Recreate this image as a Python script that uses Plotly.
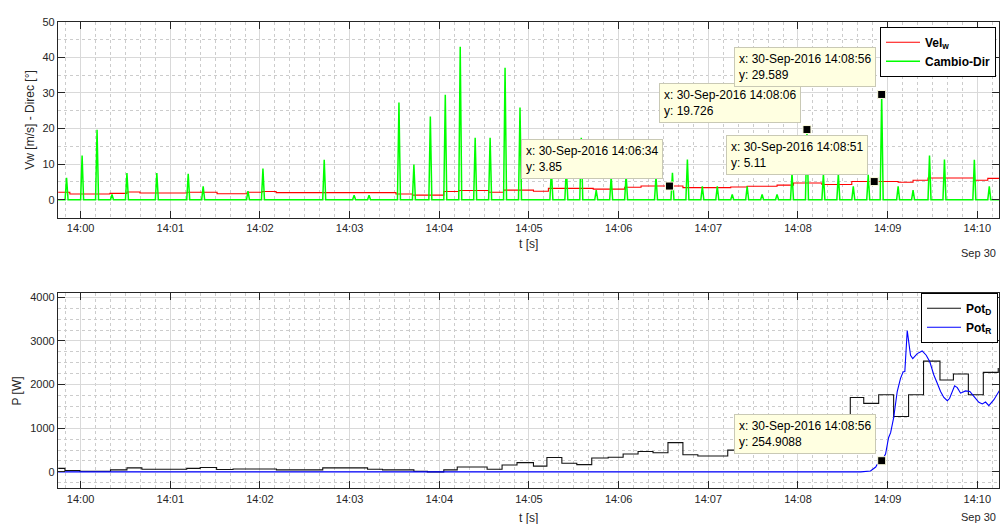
import plotly.graph_objects as go
import datetime as _dt

DAY = "2016-09-30 "

# ---------------- top chart data ----------------
# Vel_w (red), step values: start time, value
vel_t = ["13:59:45", "13:59:52.8", "14:00:19.6", "14:00:31", "14:00:39.7", "14:01:11.2",
         "14:01:31.3", "14:01:51.4", "14:02:01.4", "14:02:10.8", "14:03:31", "14:03:42",
         "14:04:03", "14:04:13", "14:04:33", "14:04:43", "14:05:03", "14:05:13", "14:05:43",
         "14:06:04", "14:06:15", "14:06:43", "14:07:15", "14:07:26", "14:07:46", "14:07:57",
         "14:08:16", "14:08:36", "14:09:07", "14:09:17", "14:09:27", "14:09:58", "14:10:07",
         "14:10:15"]
vel_v = [2.1, 1.6, 1.8, 2.2, 1.9, 2.1,
         1.7, 2.1, 2.3, 2.0, 1.6, 1.3,
         2.3, 2.6, 2.1, 2.7, 2.4, 3.2, 3.0,
         3.5, 3.85, 3.4, 3.6, 3.8, 4.1, 4.7,
         4.3, 5.11, 4.9, 5.5, 6.1, 5.5, 6.0,
         6.0]

# Cambio-Dir (green) spikes: time of peak, peak value; baseline value
cambio_base = 0.0
cambio_t = ["13:59:50.6", "14:00:01", "14:00:11", "14:00:21", "14:00:31", "14:00:51",
            "14:01:12", "14:01:22", "14:01:52", "14:02:02", "14:02:43", "14:03:03",
            "14:03:13", "14:03:33", "14:03:43", "14:03:54", "14:04:04", "14:04:14",
            "14:04:24", "14:04:34", "14:04:44", "14:04:54", "14:05:15", "14:05:25",
            "14:05:35", "14:05:45", "14:05:55", "14:06:05", "14:06:25", "14:06:36",
            "14:06:46", "14:06:56", "14:07:06", "14:07:16", "14:07:26", "14:07:36",
            "14:07:46", "14:07:56", "14:08:06", "14:08:17", "14:08:27", "14:08:37",
            "14:08:47", "14:08:56", "14:09:07", "14:09:17", "14:09:28", "14:09:38",
            "14:09:58", "14:10:08"]
cambio_v = [6.2, 12.4, 19.7, 1.5, 7.5, 7.5,
            7.3, 3.8, 2.4, 8.8, 11.2, 1.3,
            1.3, 27.3, 9.9, 23.4, 29.5, 43.0,
            17.4, 17.4, 37.1, 25.9, 8.5, 9.0,
            17.4, 2.7, 6.5, 7.0, 6.5, 7.6,
            11.3, 3.8, 3.8, 1.5, 3.8, 1.5,
            1.5, 7.5, 19.726, 7.2, 7.2, 3.8,
            7.0, 29.589, 3.8, 2.7, 12.4, 11.3,
            11.2, 3.8]
cambio_start = "13:59:45"
cambio_end = "14:10:15"

# ---------------- bottom chart data ----------------
potd_t = ["13:59:45", "13:59:49.5", "13:59:59.5", "14:00:20", "14:00:31", "14:00:41",
          "14:01:11", "14:01:20", "14:01:31", "14:01:42", "14:02:11", "14:02:42",
          "14:03:12", "14:03:22", "14:03:43", "14:03:52", "14:04:03", "14:04:12",
          "14:04:32", "14:04:42", "14:04:52", "14:05:03", "14:05:12", "14:05:22",
          "14:05:32", "14:05:42", "14:05:53", "14:06:03", "14:06:13", "14:06:23",
          "14:06:33", "14:06:43", "14:06:53", "14:07:13", "14:07:23", "14:07:34",
          "14:07:44", "14:07:54", "14:08:04", "14:08:14", "14:08:24", "14:08:35",
          "14:08:44", "14:08:54", "14:09:04", "14:09:14", "14:09:24", "14:09:35",
          "14:09:44", "14:09:54", "14:10:04", "14:10:14"]
potd_v = [80, 30, 15, 45, 90, 60,
          80, 100, 55, 65, 45, 90,
          60, 45, 15, 0, 45, 110,
          60, 158, 210, 130, 330, 195,
          165, 317, 335, 407, 467, 437,
          670, 392, 362, 498, 520, 600,
          680, 760, 830, 900, 960, 1705,
          1570, 1767, 1268, 1767, 2537, 2106,
          2242, 1767, 2279, 2380]

potr_t = ["13:59:45", "14:06:50", "14:06:52", "14:06:54", "14:08:42", "14:08:48.5",
          "14:08:52", "14:08:53", "14:08:56", "14:08:58.6", "14:09:00.6", "14:09:02",
          "14:09:04", "14:09:06.4", "14:09:08.6", "14:09:10.4", "14:09:11.5", "14:09:13.1",
          "14:09:15.3", "14:09:16.8", "14:09:19.8", "14:09:23.1", "14:09:25.8", "14:09:28.2",
          "14:09:30.9", "14:09:33.2", "14:09:35.4", "14:09:37.6", "14:09:39.9", "14:09:41.4",
          "14:09:43.2", "14:09:44.8", "14:09:46.6", "14:09:48.8", "14:09:52.1", "14:09:55",
          "14:09:57.7", "14:10:01", "14:10:03.3", "14:10:05.5", "14:10:07.7", "14:10:11.1",
          "14:10:15.1"]
potr_v = [0, 0, 12, 0, 0, 20,
          110, 170, 254.9088, 408, 783, 897,
          1237, 1841, 2143, 2294, 2300, 3239,
          2673, 2596, 2709, 2770, 2673, 2521,
          2220, 2030, 1841, 1705, 1631, 1680,
          1841, 1970, 1930, 1803, 1855, 1841,
          1728, 1592, 1555, 1600, 1517, 1653,
          1880]

# data tips: (time, value, shown text)
tips_top_t = ["14:06:34", "14:08:06", "14:08:51", "14:08:56"]
tips_top_v = [3.85, 19.726, 5.11, 29.589]
tips_top_txt = ["3.85", "19.726", "5.11", "29.589"]
tips_bot_t = ["14:08:56"]
tips_bot_v = [254.9088]
tips_bot_txt = ["254.9088"]

x_range = [DAY + "13:59:44.83", DAY + "14:10:14.5"]
FONT = "Liberation Sans, Arial, sans-serif"
AXC = "#262626"


def d(ts):
    return [DAY + t for t in ts]


def _p(t):
    return _dt.datetime.strptime(DAY + (t if "." in t else t + ".0"), "%Y-%m-%d %H:%M:%S.%f")


# green series: each spike is a single sample above the baseline
gx = [_p(cambio_start)]
gy = [cambio_base]
for t, v in zip(cambio_t, cambio_v):
    pt = _p(t)
    gx += [pt - _dt.timedelta(seconds=1), pt, pt + _dt.timedelta(seconds=1)]
    gy += [cambio_base, v, cambio_base]
gx.append(_p(cambio_end))
gy.append(cambio_base)

fig = go.Figure()
fig.add_trace(go.Scatter(x=d(vel_t), y=vel_v, mode="lines", line=dict(color="#FF0000", width=1.1, shape="hv"),
                         name="<b>Vel<sub>w</sub></b>", legend="legend", xaxis="x", yaxis="y"))
fig.add_trace(go.Scatter(x=gx, y=gy, mode="lines", line=dict(color="#00FF00", width=1.5),
                         name="<b>Cambio-Dir</b>", legend="legend", xaxis="x", yaxis="y"))
fig.add_trace(go.Scatter(x=d(potd_t), y=potd_v, mode="lines", line=dict(color="#111111", width=1.1, shape="hv"),
                         name="<b>Pot<sub>D</sub></b>", legend="legend2", xaxis="x2", yaxis="y2"))
fig.add_trace(go.Scatter(x=d(potr_t), y=potr_v, mode="lines", line=dict(color="#0000FF", width=1.1),
                         name="<b>Pot<sub>R</sub></b>", legend="legend2", xaxis="x2", yaxis="y2"))

# data tip markers
fig.add_trace(go.Scatter(x=d(tips_top_t), y=tips_top_v, mode="markers", showlegend=False,
                         marker=dict(symbol="square", size=8, color="black", line=dict(color="#FFFFE0", width=1)),
                         xaxis="x", yaxis="y"))
fig.add_trace(go.Scatter(x=d(tips_bot_t), y=tips_bot_v, mode="markers", showlegend=False,
                         marker=dict(symbol="square", size=8, color="black", line=dict(color="#FFFFE0", width=1)),
                         xaxis="x2", yaxis="y2"))

annotations = []


def tip(t, v, txt, xr, yr):
    annotations.append(dict(
        x=DAY + t, y=v, xref=xr, yref=yr, showarrow=False,
        xanchor="right", yanchor="bottom", xshift=-6, yshift=7,
        text="x: 30-Sep-2016 " + t + "<br>y: " + txt, align="left",
        font=dict(family=FONT, size=12, color="black"),
        bgcolor="#FFFFE1", bordercolor="#C9C9B5", borderwidth=1, borderpad=4))


for t, v, s in zip(tips_top_t, tips_top_v, tips_top_txt):
    tip(t, v, s, "x", "y")
for t, v, s in zip(tips_bot_t, tips_bot_v, tips_bot_txt):
    tip(t, v, s, "x2", "y2")

H = 524.0


def py(px):
    return 1 - px / H


# axis titles and date labels
annotations += [
    dict(text="Vw [m/s] - Direc [°]", x=30 / 1000, y=py(115), xref="paper", yref="paper", showarrow=False,
         textangle=-90, font=dict(family=FONT, size=12, color=AXC), xanchor="center", yanchor="middle"),
    dict(text="P [W]", x=17 / 1000, y=py(389), xref="paper", yref="paper", showarrow=False,
         textangle=-90, font=dict(family=FONT, size=12, color=AXC), xanchor="center", yanchor="middle"),
    dict(text="t [s]", x=529 / 1000, y=py(241), xref="paper", yref="paper", showarrow=False,
         font=dict(family=FONT, size=12, color=AXC), xanchor="center", yanchor="middle"),
    dict(text="t [s]", x=529 / 1000, y=py(518), xref="paper", yref="paper", showarrow=False,
         font=dict(family=FONT, size=12, color=AXC), xanchor="center", yanchor="middle"),
    dict(text="Sep 30", x=999 / 1000, y=py(250), xref="paper", yref="paper", showarrow=False,
         font=dict(family=FONT, size=11, color=AXC), xanchor="right", yanchor="middle"),
    dict(text="Sep 30", x=999 / 1000, y=py(517), xref="paper", yref="paper", showarrow=False,
         font=dict(family=FONT, size=11, color=AXC), xanchor="right", yanchor="middle"),
]


def xaxis(anchor, dom):
    return dict(domain=dom, anchor=anchor, type="date", range=x_range,
                tick0=DAY + "14:00:00", dtick=60000, tickformat="%H:%M",
                ticks="inside", ticklen=7, tickcolor=AXC, tickwidth=1,
                showline=True, linecolor=AXC, linewidth=1, mirror="ticks",
                showgrid=True, gridcolor="#D9D9D9", gridwidth=1, zeroline=False,
                tickfont=dict(family=FONT, size=11, color=AXC),
                minor=dict(dtick=10000, tick0=DAY + "14:00:00", showgrid=True, gridcolor="#CCCCCC",
                           griddash="dot", gridwidth=1))


def yaxis(anchor, dom, rng, dt, mdt):
    return dict(domain=dom, anchor=anchor, range=rng, dtick=dt, tick0=0,
                ticks="inside", ticklen=7, tickcolor=AXC, tickwidth=1,
                showline=True, linecolor=AXC, linewidth=1, mirror="ticks",
                showgrid=True, gridcolor="#D9D9D9", gridwidth=1, zeroline=False,
                tickfont=dict(family=FONT, size=11, color=AXC),
                minor=dict(dtick=mdt, tick0=0, showgrid=True, gridcolor="#CCCCCC",
                           griddash="dot", gridwidth=1))


fig.update_layout(
    width=1000, height=524, margin=dict(l=0, r=0, t=0, b=0),
    paper_bgcolor="white", plot_bgcolor="white",
    xaxis=xaxis("y", [0.058, 1.0]),
    yaxis=yaxis("x", [py(214), py(16)], [-5, 50], 10, 5),
    xaxis2=xaxis("y2", [0.058, 1.0]),
    yaxis2=yaxis("x2", [py(488), py(290.7)], [-380, 4090], 1000, 250),
    legend=dict(x=0.997, y=py(21), xanchor="right", yanchor="top", bgcolor="white",
                bordercolor="black", borderwidth=1, font=dict(family=FONT, size=12, color="black"),
                tracegroupgap=0, itemwidth=34),
    legend2=dict(x=0.999, y=py(290), xanchor="right", yanchor="top", bgcolor="white",
                 bordercolor="black", borderwidth=1, font=dict(family=FONT, size=12, color="black"),
                 tracegroupgap=0, itemwidth=34),
    annotations=annotations,
    showlegend=True, hovermode=False,
)

fig.write_html("out.html")
